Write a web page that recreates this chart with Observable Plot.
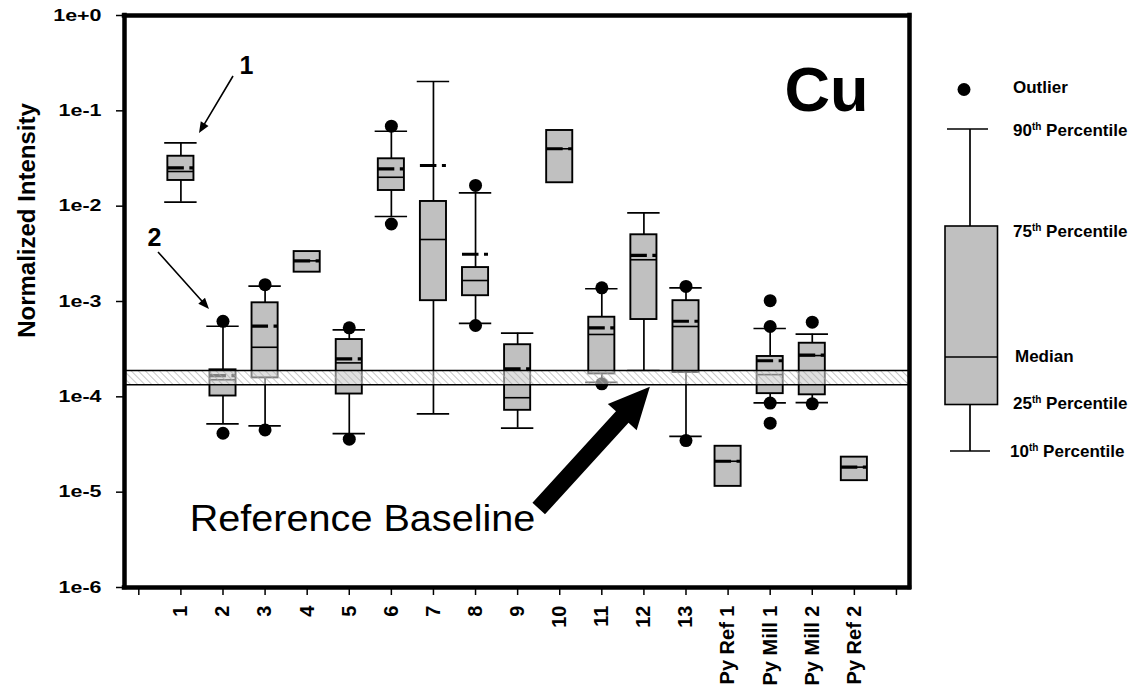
<!DOCTYPE html>
<html><head><meta charset="utf-8">
<script src="https://cdn.jsdelivr.net/npm/d3@7"></script>
<script src="https://cdn.jsdelivr.net/npm/@observablehq/plot@0.6"></script>
<style>
body{margin:0;background:#fff;}
#wrap{position:relative;width:1136px;height:696px;font-family:"Liberation Sans",Arial,sans-serif;}
#wrap > svg{position:absolute;left:0;top:0;}
</style></head><body>
<svg width="0" height="0" style="position:absolute"><defs>
<pattern id="hatch" patternUnits="userSpaceOnUse" width="5" height="5" patternTransform="rotate(-45)">
<rect width="5" height="5" fill="#fff" fill-opacity="0.5"/>
<line x1="0" y1="0" x2="0" y2="5" stroke="#a8a8a8" stroke-width="1.3"/>
</pattern></defs></svg>
<div id="wrap"></div>
<script>
// ---------- data ----------
const categories = ["1","2","3","4","5","6","7","8","9","10","11","12","13","Py Ref 1","Py Mill 1","Py Mill 2","Py Ref 2"];
const p10    = [0.0110, 5.2e-5, 4.97e-5, null, 4.12e-5, 7.79e-3, 6.64e-5, 5.9e-4, 4.7e-5, null, 1.42e-4, 1.89e-4, 3.84e-5, null, 8.65e-5, 8.71e-5, null];
const p25    = [0.0186, 1.02e-4, 1.58e-4, 2.03e-3, 1.07e-4, 0.0146, 1.02e-3, 1.15e-3, 7.22e-5, 0.0176, 1.74e-4, 6.47e-4, 1.80e-4, 1.15e-5, 1.08e-4, 1.05e-4, 1.32e-5];
const median = [0.0231, 1.51e-4, 3.31e-4, 2.67e-3, 2.27e-4, 0.0201, 4.47e-3, 1.66e-3, 9.79e-5, 0.0400, 4.51e-4, 2.74e-3, 5.47e-4, 2.11e-5, 1.71e-4, 2.71e-4, 1.83e-5];
const mean   = [0.0252, 1.67e-4, 5.51e-4, 2.67e-3, 2.50e-4, 0.0246, 0.0267, 3.13e-3, 1.97e-4, 0.0400, 5.30e-4, 3.04e-3, 6.21e-4, 2.11e-5, 2.39e-4, 2.74e-4, 1.83e-5];
const p75    = [0.0334, 1.92e-4, 9.69e-4, 3.34e-3, 3.99e-4, 0.0314, 0.0112, 2.27e-3, 3.52e-4, 0.0622, 6.84e-4, 5.01e-3, 1.02e-3, 3.03e-5, 2.65e-4, 3.65e-4, 2.33e-5];
const p90    = [0.0462, 5.5e-4, 1.45e-3, null, 5.05e-4, 0.0611, 0.203, 0.0138, 4.65e-4, null, 1.36e-3, 8.52e-3, 1.39e-3, null, 5.21e-4, 4.54e-4, null];
const outliers = [[], [6.2e-4, 4.15e-5], [1.5e-3, 4.5e-5], [], [5.3e-4, 3.6e-5], [0.069, 6.5e-3], [], [0.0165, 5.6e-4], [], [], [1.39e-3, 1.37e-4], [], [1.44e-3, 3.48e-5], [], [1.02e-3, 5.47e-4, 8.6e-5, 5.29e-5], [6.07e-4, 8.45e-5], []];
const baselineBand = [1.34e-4, 1.89e-4];
const yTicks = [1e-6, 1e-5, 1e-4, 1e-3, 1e-2, 1e-1, 1];
const yTickLabels = ["1e-6", "1e-5", "1e-4", "1e-3", "1e-2", "1e-1", "1e+0"];
const xDomain = [-0.34, 18.31];
const yDomain = [1e-6, 1];
const yTitle = "Normalized Intensity";
const elementLabel = "Cu";
const baselineLabel = "Reference Baseline";
// annotation anchors in data units
const pointerArrows = [
  {x1: 2.25, y1: 0.229, x2: 1.442, y2: 0.0578, w: 1.6, L: 11, h: 4.5},
  {x1: 0.468, y1: 3.27e-3, x2: 1.679, y2: 8.24e-4, w: 1.6, L: 11, h: 4.5},
  {x1: 9.513, y1: 6.65e-6, x2: 12.154, y2: 1.26e-4, w: 17, L: 41, h: 19.5}
];
const pointerLabels = [{t: "1", x: 2.558, y: 0.292}, {t: "2", x: 0.373, y: 4.58e-3}];
const baselineLabelPos = {x: 9.42, y: 3.96e-6};

// ---------- derived tables ----------
const boxes = categories.map((c, i) => ({cat: c, pos: i + 1, p10: p10[i], p25: p25[i], median: median[i], mean: mean[i], p75: p75[i], p90: p90[i]}));
const caps = boxes.flatMap(d => [d.p10, d.p90].filter(v => v != null).map(v => ({pos: d.pos, v})));
const outRows = boxes.flatMap((d, i) => outliers[i].map(v => ({pos: d.pos, v})));
const xTicks = d3.range(0, categories.length + 2);

const BW = 0.31, CW = 0.385;
const LW = 1.7;

function arrowRender(I, scales, values) {
  const g = d3.create("svg:g");
  for (const i of I) {
    const d = pointerArrows[i];
    const tx = values.x1[i], ty = values.y1[i], px = values.x2[i], py = values.y2[i];
    const len = Math.hypot(px - tx, py - ty);
    const ux = (px - tx) / len, uy = (py - ty) / len;
    const nx = -uy, ny = ux;
    const bx = px - ux * d.L, by = py - uy * d.L;
    const pts = [
      [tx + nx * d.w / 2, ty + ny * d.w / 2],
      [bx + nx * d.w / 2, by + ny * d.w / 2],
      [bx + nx * d.h, by + ny * d.h],
      [px, py],
      [bx - nx * d.h, by - ny * d.h],
      [bx - nx * d.w / 2, by - ny * d.w / 2],
      [tx - nx * d.w / 2, ty - ny * d.w / 2]
    ];
    g.append("path").attr("d", "M" + pts.map(p => p.join(",")).join("L") + "Z").attr("fill", "black");
  }
  return g.node();
}

const chart = Plot.plot({
  width: 1136, height: 696,
  marginLeft: 124, marginRight: 227, marginTop: 15, marginBottom: 109,
  style: {fontFamily: '"Liberation Sans", Arial, sans-serif', background: "white", color: "black"},
  x: {domain: xDomain},
  y: {type: "log", domain: yDomain},
  marks: [
    Plot.ruleX(boxes.filter(d => d.p90 != null), {x: "pos", y1: "p75", y2: "p90", strokeWidth: LW}),
    Plot.ruleX(boxes.filter(d => d.p10 != null), {x: "pos", y1: "p10", y2: "p25", strokeWidth: LW}),
    Plot.ruleY(caps, {y: "v", x1: d => d.pos - CW, x2: d => d.pos + CW, strokeWidth: LW}),
    Plot.rect(boxes, {x1: d => d.pos - BW, x2: d => d.pos + BW, y1: "p25", y2: "p75", fill: "#c0c0c0", stroke: "black", strokeWidth: 1.9}),
    Plot.ruleY(boxes, {y: "median", x1: d => d.pos - BW, x2: d => d.pos + BW, strokeWidth: 1.6}),
    Plot.ruleY(boxes, {y: "mean", x1: d => d.pos - BW, x2: d => d.pos + BW, strokeWidth: 3.2, strokeDasharray: "16.5,5.5,4,40"}),
    Plot.dot(outRows, {x: "pos", y: "v", r: 6.5, fill: "black", stroke: "none"}),
    Plot.rect([baselineBand], {x1: xDomain[0], x2: xDomain[1], y1: d => d[0], y2: d => d[1], fill: "url(#hatch)"}),
    Plot.ruleY(baselineBand, {strokeWidth: 1.4}),
    Plot.link(pointerArrows, {x1: "x1", y1: "y1", x2: "x2", y2: "y2", render: arrowRender}),
    Plot.text(pointerLabels, {x: "x", y: "y", text: "t", fontSize: 25, fontWeight: "bold", textAnchor: "middle", lineAnchor: "middle"}),
    Plot.text([elementLabel], {text: d => d, frameAnchor: "top-right", dx: -41, dy: 95, textAnchor: "end", lineAnchor: "bottom", fontSize: 63, fontWeight: "bold"}),
    Plot.text([baselineLabel], {text: d => d, x: baselineLabelPos.x, y: baselineLabelPos.y, textAnchor: "end", lineAnchor: "bottom", fontSize: 36, className: "refbase"}),
    Plot.text([yTitle], {text: d => d, frameAnchor: "left", dx: -97, dy: -81, rotate: -90, textAnchor: "middle", lineAnchor: "middle", fontSize: 24, fontWeight: "bold"}),
    Plot.axisY({ticks: yTicks, tickFormat: d => yTickLabels[yTicks.indexOf(d)], tickSize: 8, tickPadding: 15, fontSize: 16.5, fontWeight: "bold", strokeWidth: 1.5, label: null}),
    Plot.axisX({ticks: xTicks, tickFormat: d => (d >= 1 && d <= categories.length) ? categories[d - 1] : "", tickRotate: -90, tickSize: 8, tickPadding: 10, fontSize: 20, fontWeight: "bold", strokeWidth: 1.5, label: null}),
    Plot.ruleX(xDomain, {strokeWidth: 4.5, strokeLinecap: "square"}),
    Plot.ruleY(yDomain, {strokeWidth: 4.5, strokeLinecap: "square"})
  ]
});

const wrap = document.getElementById("wrap");
wrap.appendChild(chart);

function stretch(t, f) {
  const L = t.getComputedTextLength();
  if (L > 0) {
    t.setAttribute("textLength", (L * f).toFixed(1));
    t.setAttribute("lengthAdjust", "spacingAndGlyphs");
  }
}
// y tick labels are horizontally stretched in the reference
chart.querySelectorAll("text").forEach(t => {
  if (yTickLabels.includes(t.textContent.trim())) stretch(t, 1.3);
});
chart.querySelectorAll("text").forEach(t => {
  if (t.textContent.trim() === baselineLabel) stretch(t, 1.1);
});

// ---------- legend ----------
const legendItems = [
  {num: "", sup: "", rest: "Outlier", y: 87},
  {num: "90", sup: "th", rest: " Percentile", y: 130},
  {num: "75", sup: "th", rest: " Percentile", y: 231},
  {num: "", sup: "", rest: "Median", y: 356, dx: 2},
  {num: "25", sup: "th", rest: " Percentile", y: 403},
  {num: "10", sup: "th", rest: " Percentile", y: 451, dx: -3}
];
const lg = d3.create("svg").attr("width", 1136).attr("height", 696)
  .style("font-family", '"Liberation Sans", Arial, sans-serif');
const cx = 970;
lg.append("circle").attr("cx", 964).attr("cy", 89.5).attr("r", 6.5).attr("fill", "black");
lg.append("line").attr("x1", 947).attr("x2", 988).attr("y1", 129).attr("y2", 129).attr("stroke", "black").attr("stroke-width", LW);
lg.append("line").attr("x1", cx).attr("x2", cx).attr("y1", 129).attr("y2", 226).attr("stroke", "black").attr("stroke-width", LW);
lg.append("rect").attr("x", 945).attr("y", 226).attr("width", 52.5).attr("height", 178.5).attr("fill", "#c0c0c0").attr("stroke", "black").attr("stroke-width", 1.6);
lg.append("line").attr("x1", 945).attr("x2", 997.5).attr("y1", 357).attr("y2", 357).attr("stroke", "black").attr("stroke-width", 1.4);
lg.append("line").attr("x1", cx).attr("x2", cx).attr("y1", 404.5).attr("y2", 451).attr("stroke", "black").attr("stroke-width", LW);
lg.append("line").attr("x1", 950).attr("x2", 990).attr("y1", 451).attr("y2", 451).attr("stroke", "black").attr("stroke-width", LW);
for (const it of legendItems) {
  const t = lg.append("text").attr("x", 1013 + (it.dx || 0)).attr("y", it.y + 6)
    .attr("font-size", 17).attr("font-weight", "bold").attr("fill", "black");
  if (it.num) {
    t.append("tspan").text(it.num);
    t.append("tspan").attr("font-size", 10).attr("dy", -6).text(it.sup);
    t.append("tspan").attr("dy", 6).text(it.rest);
  } else {
    t.append("tspan").text(it.rest);
  }
}
wrap.appendChild(lg.node());
</script>
</body></html>
